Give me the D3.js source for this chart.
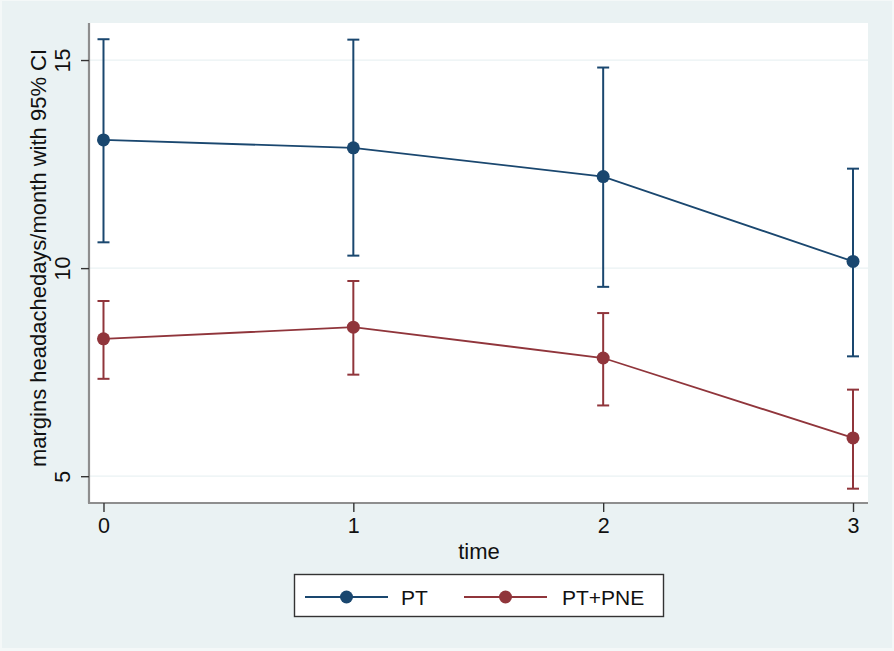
<!DOCTYPE html>
<html>
<head>
<meta charset="utf-8">
<script src="https://cdn.jsdelivr.net/npm/d3@7/dist/d3.min.js"></script>
<style>
html, body { margin: 0; padding: 0; background: #f4f8f8; }
svg { display: block; font-family: "Liberation Sans", Arial, Helvetica, sans-serif; }
</style>
</head>
<body>
<svg id="chart" width="894" height="651"></svg>
<script>
// ---- data ----
const times = [0, 1, 2, 3];
const seriesNames = ["PT", "PT+PNE"];
const ptMean  = [13.08, 12.89, 12.20, 10.16];
const ptLower = [10.62, 10.30, 9.55, 7.88];
const ptUpper = [15.50, 15.49, 14.82, 12.39];
const pnMean  = [8.30, 8.58, 7.84, 5.92];
const pnLower = [7.34, 7.44, 6.70, 4.70];
const pnUpper = [9.21, 9.69, 8.92, 7.08];
const yTicks = [5, 10, 15];
const xTicks = [0, 1, 2, 3];
const xTitle = "time";
const yTitle = "margins headachedays/month with 95% CI";

const colors = ["#1a476f", "#90353b"];
const series = [
  { name: seriesNames[0], mean: ptMean, lower: ptLower, upper: ptUpper, color: colors[0] },
  { name: seriesNames[1], mean: pnMean, lower: pnLower, upper: pnUpper, color: colors[1] }
];

const svg = d3.select("#chart");
const W = 894, H = 651;
const plot = { left: 90, right: 868, top: 23, bottom: 502 };

// outer background
svg.append("rect").attr("x", 0).attr("y", 0).attr("width", W).attr("height", H).attr("fill", "#f4f8f8");
svg.append("rect").attr("x", 2).attr("y", 1).attr("width", W - 4).attr("height", H - 4).attr("fill", "#eaf2f3");

// plot region
svg.append("rect")
  .attr("x", plot.left).attr("y", plot.top)
  .attr("width", plot.right - plot.left).attr("height", plot.bottom - plot.top)
  .attr("fill", "#ffffff");

const x = d3.scaleLinear().domain([-0.054, 3.06]).range([plot.left, plot.right]);
const y = d3.scaleLinear().domain([4.38, 15.89]).range([plot.bottom, plot.top]);

// gridlines
svg.append("g").selectAll("line").data(yTicks).join("line")
  .attr("x1", plot.left).attr("x2", plot.right)
  .attr("y1", d => y(d)).attr("y2", d => y(d))
  .attr("stroke", "#eaf2f3").attr("stroke-width", 1.2);

// y axis
const yAxis = svg.append("g").attr("transform", `translate(${plot.left - 1},0)`)
  .call(d3.axisLeft(y).tickValues(yTicks).tickSize(8).tickSizeOuter(0).tickFormat(d3.format("d")));
yAxis.select(".domain").attr("stroke", "#8e8e8e").attr("stroke-width", 2.2)
  .attr("d", `M0,${plot.top}V${plot.bottom + 1}`);
yAxis.selectAll(".tick line").attr("stroke", "#333").attr("stroke-width", 1.4);
yAxis.selectAll(".tick text")
  .attr("x", null).attr("dy", null)
  .attr("transform", "translate(-19,0) rotate(-90)")
  .attr("text-anchor", "middle")
  .attr("fill", "#111")
  .style("font-size", "21.5px");

// x axis
const xAxis = svg.append("g").attr("transform", `translate(0,${plot.bottom + 1})`)
  .call(d3.axisBottom(x).tickValues(xTicks).tickSize(9).tickSizeOuter(0).tickFormat(d3.format("d")));
xAxis.select(".domain").attr("stroke", "#8e8e8e").attr("stroke-width", 2.2)
  .attr("d", `M${plot.left - 2},0H${plot.right}`);
xAxis.selectAll(".tick line").attr("stroke", "#333").attr("stroke-width", 1.4);
xAxis.selectAll(".tick text")
  .attr("y", 15).attr("dy", "0.71em")
  .attr("fill", "#111")
  .style("font-size", "21.5px");

// axis titles
svg.append("text").attr("x", (plot.left + plot.right) / 2).attr("y", 559)
  .attr("text-anchor", "middle").attr("fill", "#111").style("font-size", "22px")
  .text(xTitle);
svg.append("text")
  .attr("transform", `translate(46,258) rotate(-90)`)
  .attr("text-anchor", "middle").attr("fill", "#111").style("font-size", "22px")
  .text(yTitle);

// series
series.forEach(s => {
  const g = svg.append("g");
  const pts = times.map((t, i) => ({ t, m: s.mean[i], lo: s.lower[i], hi: s.upper[i] }));
  g.append("path").datum(pts)
    .attr("fill", "none").attr("stroke", s.color).attr("stroke-width", 1.8)
    .attr("d", d3.line().x(d => x(d.t)).y(d => y(d.m)));
  g.selectAll("line.v").data(pts).join("line").attr("class", "v")
    .attr("x1", d => x(d.t)).attr("x2", d => x(d.t))
    .attr("y1", d => y(d.lo)).attr("y2", d => y(d.hi))
    .attr("stroke", s.color).attr("stroke-width", 2);
  ["lo", "hi"].forEach(k => {
    g.selectAll("line.c" + k).data(pts).join("line").attr("class", "c" + k)
      .attr("x1", d => x(d.t) - 6).attr("x2", d => x(d.t) + 6)
      .attr("y1", d => y(d[k])).attr("y2", d => y(d[k]))
      .attr("stroke", s.color).attr("stroke-width", 2);
  });
  g.selectAll("circle").data(pts).join("circle")
    .attr("cx", d => x(d.t)).attr("cy", d => y(d.m)).attr("r", 6.5)
    .attr("fill", s.color);
});

// legend
const leg = svg.append("g");
leg.append("rect").attr("x", 294.5).attr("y", 574.5).attr("width", 369).attr("height", 42)
  .attr("fill", "#fff").attr("stroke", "#333").attr("stroke-width", 1.4);
const legItems = [
  { x1: 305, x2: 388, tx: 401 },
  { x1: 464, x2: 547, tx: 562 }
];
series.forEach((s, i) => {
  const it = legItems[i];
  const cy = 597;
  leg.append("line").attr("x1", it.x1).attr("x2", it.x2).attr("y1", cy).attr("y2", cy)
    .attr("stroke", s.color).attr("stroke-width", 1.8);
  leg.append("circle").attr("cx", (it.x1 + it.x2) / 2).attr("cy", cy).attr("r", 6.5).attr("fill", s.color);
  leg.append("text").attr("x", it.tx).attr("y", cy).attr("dy", "0.36em")
    .attr("fill", "#111").style("font-size", "21px").text(s.name);
});
</script>
</body>
</html>
